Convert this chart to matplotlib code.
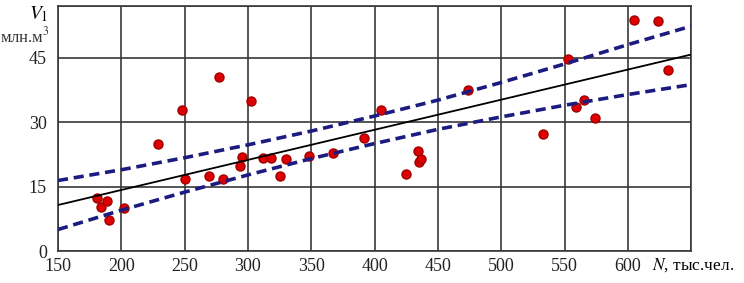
import matplotlib.pyplot as plt

plt.rcParams['mathtext.fontset'] = 'stix'

# observed points: N (thousand people), V1 (mln m3)
n_obs = [181, 184, 189, 190, 202, 229, 248, 250, 269, 277, 280, 294, 295,
         302, 312, 318, 325, 330, 348, 367, 392, 405, 425, 434, 435, 437,
         474, 533, 553, 559, 565, 574, 605, 624, 632]
v_obs = [12.4, 10.2, 11.6, 7.3, 9.9, 24.9, 32.8, 16.7, 17.5, 40.4, 16.7,
         19.8, 21.9, 34.8, 21.7, 21.7, 17.4, 21.5, 22.2, 22.8, 26.4, 32.9,
         18.0, 23.3, 20.8, 21.3, 37.4, 27.3, 44.7, 33.4, 35.1, 31.0, 53.7,
         53.4, 42.0]

# regression line and confidence band read at grid positions
n_fit = [150, 200, 250, 300, 350, 400, 450, 500, 550, 600, 650]
v_fit = [10.7, 14.2, 17.7, 21.2, 24.7, 28.2, 31.7, 35.2, 38.7, 42.2, 45.7]
v_upper = [16.4, 18.9, 21.7, 24.7, 27.9, 31.4, 35.1, 39.2, 43.5, 48.0, 52.3]
v_lower = [5.0, 9.5, 13.7, 17.7, 21.5, 25.0, 28.3, 31.2, 33.9, 36.4, 38.7]

x_ticks = [150, 200, 250, 300, 350, 400, 450, 500, 550, 600]
y_ticks = [0, 15, 30, 45]

fig = plt.figure(figsize=(7.44, 2.83), dpi=100)
ax = fig.add_axes([0.078, 0.113, 0.851, 0.866])

ax.plot(n_obs, v_obs, 'o', color='#dd0000', mec='#a00000', ms=6.5, zorder=3)
ax.plot(n_fit, v_fit, color='black', lw=1.3, zorder=4)
for band in (v_upper, v_lower):
    ax.plot(n_fit, band, color='#1c1c80', lw=2.6, dashes=(2.8, 1.6), zorder=5)

ax.set_xlim(150, 650)
ax.set_ylim(0, 57)
ax.set_xticks(x_ticks + [650])
ax.set_xticklabels([str(t) for t in x_ticks] + [''])
ax.set_yticks(y_ticks + [57])
ax.set_yticklabels([str(t) for t in y_ticks] + [''])
ax.grid(True, color='#383838', lw=1.2)
ax.set_axisbelow(True)
ax.tick_params(length=0, labelsize=13, labelcolor='#222222')
ax.tick_params(axis='x', pad=5)
ax.tick_params(axis='y', pad=8)
for lbl in ax.get_xticklabels() + ax.get_yticklabels():
    lbl.set_family('Liberation Serif')
for sp in ax.spines.values():
    sp.set_color('#383838')
    sp.set_linewidth(1.2)

fig.text(0.052, 0.95, '$V_1$', fontsize=14, ha='center', va='center')
fig.text(0.0, 0.872, 'млн.м$^3$', fontsize=12, family='Liberation Serif',
         color='#333333', ha='left', va='center')
fig.text(0.877, 0.062, '$N$, тыс.чел.', fontsize=12.5,
         family='Liberation Serif', ha='left', va='center')

fig.savefig('out.png', dpi=100)
